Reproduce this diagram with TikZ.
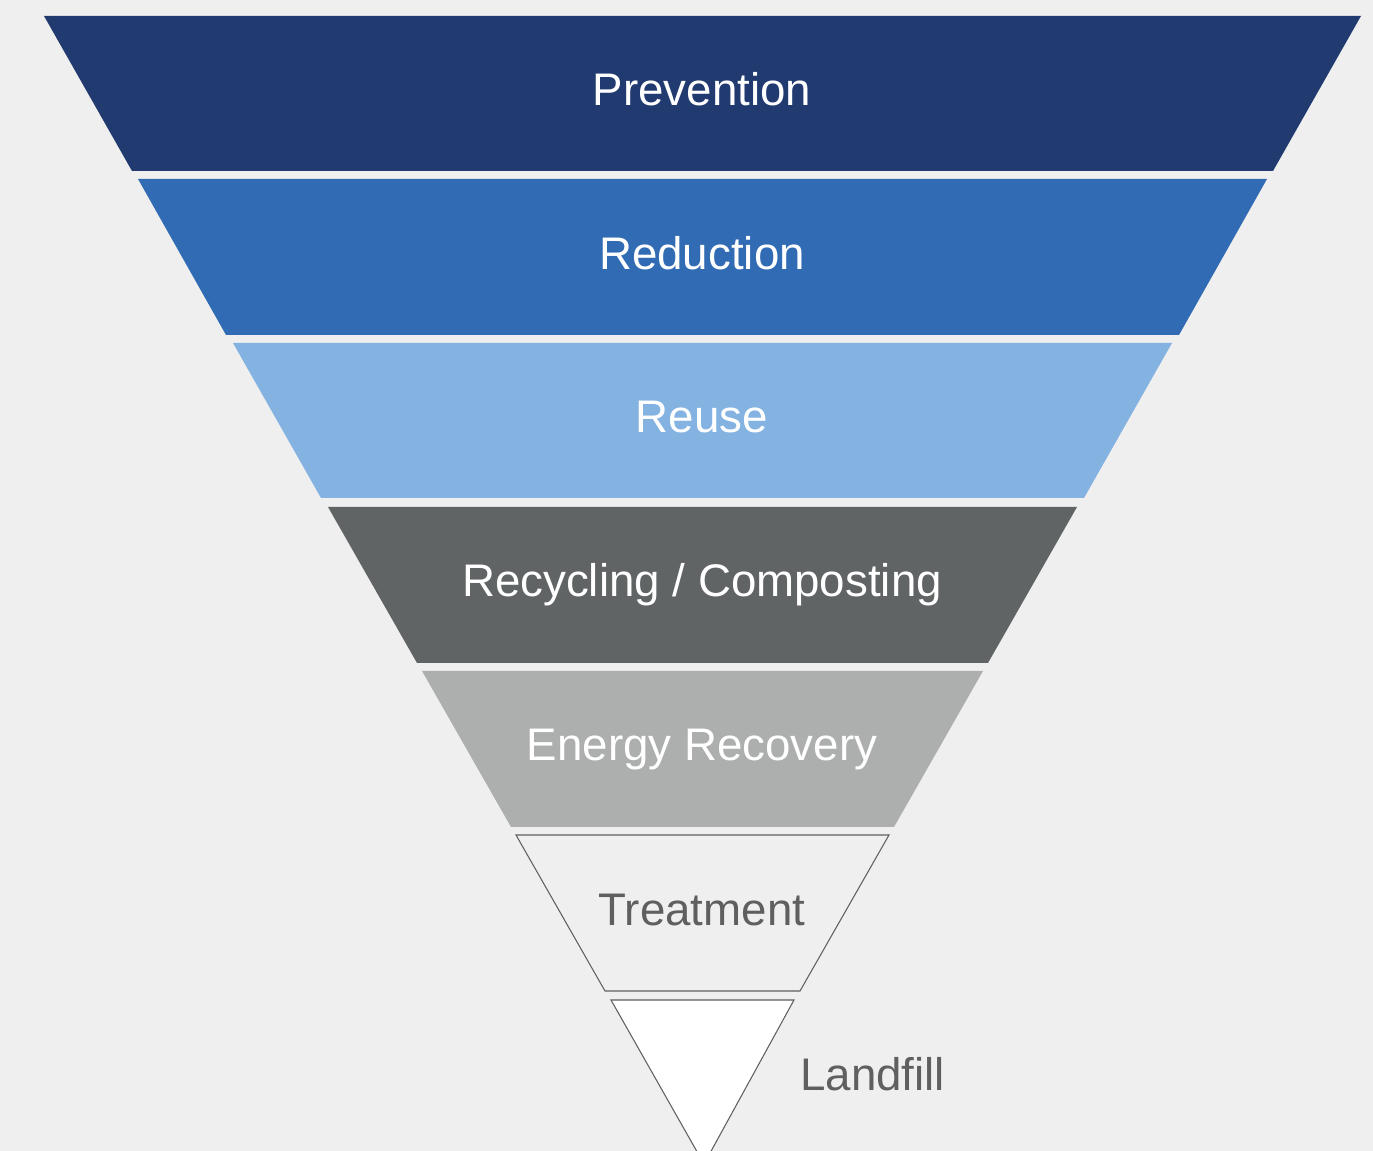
\documentclass[tikz,border=0pt]{standalone}
\usepackage{fontspec}
\setmainfont{Liberation Sans}
\usepackage{tikz}
\usetikzlibrary{positioning}

\definecolor{bggray}{HTML}{EFEFEF}
\definecolor{prevblue}{HTML}{213A70}
\definecolor{redblue}{HTML}{316BB4}
\definecolor{reuseblue}{HTML}{84B3E2}
\definecolor{recgray}{HTML}{606465}
\definecolor{enggray}{HTML}{ADAEAE}
\definecolor{txtgray}{HTML}{5F5F5F}

\begin{document}
\begin{tikzpicture}[
    x=0.02cm, y=-0.02cm,
    lvl/.style={font=\fontsize{26}{30}\selectfont, text=white, anchor=base, inner sep=0pt},
    lowlvl/.style={lvl, text=txtgray},
    rim/.style={draw=txtgray, line width=0.6pt},
]
\fill[bggray] (0,0) rectangle (1373,1151);
\useasboundingbox (0,0) rectangle (1373,1151);

% coloured bands
\fill[prevblue] (44,16) -- (1361,16) -- (1273,171) -- (132,171) -- cycle;
\fill[redblue] (138,179) -- (1267,179) -- (1179,335) -- (226,335) -- cycle;
\fill[reuseblue] (233,343) -- (1172,343) -- (1084,498) -- (321,498) -- cycle;
\fill[recgray] (328,507) -- (1077,507) -- (988,663) -- (417,663) -- cycle;
\fill[enggray] (422,671) -- (983,671) -- (894,827) -- (511,827) -- cycle;
% outlined bands
\filldraw[rim, fill=bggray] (516,835) -- (889,835) -- (800,991) -- (605,991) -- cycle;
\filldraw[rim, fill=white] (611,1000) -- (794,1000) -- (704,1164) -- cycle;

\node[lvl] (prevention) at (702,106) {Prevention};
\node[lvl] (reduction) at (702,270) {Reduction};
\node[lvl] (reuse) at (702,433) {Reuse};
\node[lvl] (recycling) at (702,597) {Recycling / Composting};
\node[lvl] (energy) at (702,761) {Energy Recovery};
\node[lowlvl] (treatment) at (702,925) {Treatment};
\node[lowlvl, anchor=base west] (landfill) at (800,1090) {Landfill};
\end{tikzpicture}
\end{document}
